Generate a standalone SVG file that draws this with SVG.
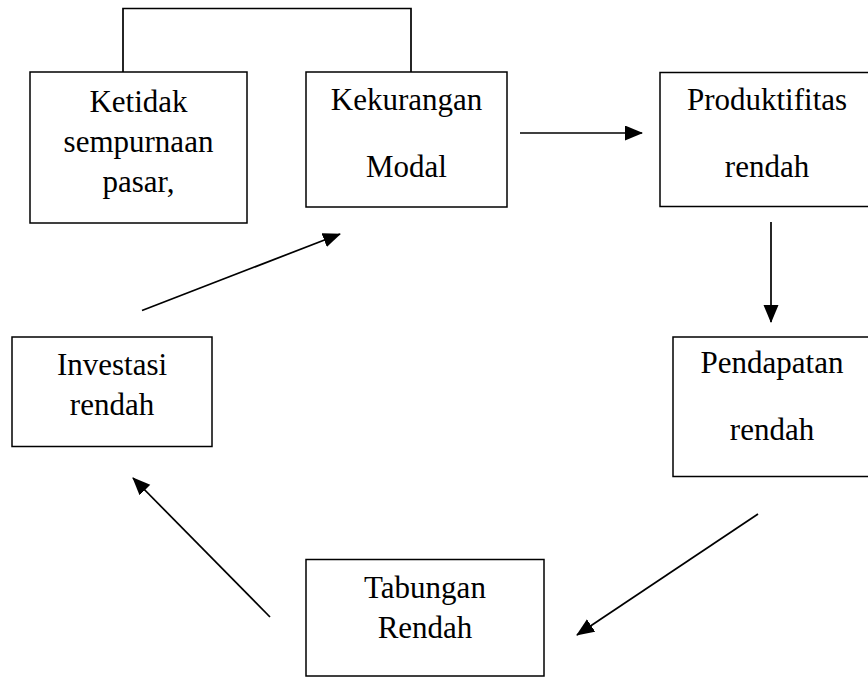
<svg xmlns="http://www.w3.org/2000/svg" width="868" height="679" viewBox="0 0 868 679">
<style>
.box{fill:#fff;stroke:#000;stroke-width:1.5}
.t{font-family:"Liberation Serif","Times New Roman",serif;font-size:31px;fill:#000;text-anchor:middle}
.c{fill:none;stroke:#000;stroke-width:1.7}
</style>
<defs>
<marker id="ah" markerUnits="userSpaceOnUse" markerWidth="19" markerHeight="16" refX="17" refY="7.5" orient="auto">
<path d="M0,0 L18,7.5 L0,15 z" fill="#000"/>
</marker>
</defs>
<rect width="868" height="679" fill="#fff"/>
<g id="connectors">
<polyline class="c" points="123,72 123,8.5 411,8.5 411,72"/>
<line class="c" x1="520" y1="133" x2="642" y2="133" marker-end="url(#ah)"/>
<line class="c" x1="771" y1="222" x2="771" y2="322" marker-end="url(#ah)"/>
<line class="c" x1="758" y1="514" x2="577" y2="635" marker-end="url(#ah)"/>
<line class="c" x1="270" y1="617" x2="133" y2="478" marker-end="url(#ah)"/>
<line class="c" x1="142" y1="310.5" x2="340" y2="234" marker-end="url(#ah)"/>
</g>
<g id="ketidak">
<rect class="box" x="30" y="72" width="217" height="151"/>
<text class="t" x="138.5" y="111.5">Ketidak</text>
<text class="t" x="138.5" y="151.5">sempurnaan</text>
<text class="t" x="138.5" y="191.5">pasar,</text>
</g>
<g id="kekurangan">
<rect class="box" x="306" y="72" width="201" height="135"/>
<text class="t" x="406.5" y="110">Kekurangan</text>
<text class="t" x="406.5" y="177">Modal</text>
</g>
<g id="produktifitas">
<rect class="box" x="660" y="72.5" width="214" height="134"/>
<text class="t" x="767" y="110">Produktifitas</text>
<text class="t" x="767" y="176.5">rendah</text>
</g>
<g id="pendapatan">
<rect class="box" x="673" y="337" width="200" height="139.5"/>
<text class="t" x="772" y="373">Pendapatan</text>
<text class="t" x="772" y="440">rendah</text>
</g>
<g id="tabungan">
<rect class="box" x="306" y="559.5" width="238" height="116.5"/>
<text class="t" x="425" y="598">Tabungan</text>
<text class="t" x="425" y="638">Rendah</text>
</g>
<g id="investasi">
<rect class="box" x="12" y="337" width="200" height="109.5"/>
<text class="t" x="112" y="375">Investasi</text>
<text class="t" x="112" y="415">rendah</text>
</g>
</svg>
